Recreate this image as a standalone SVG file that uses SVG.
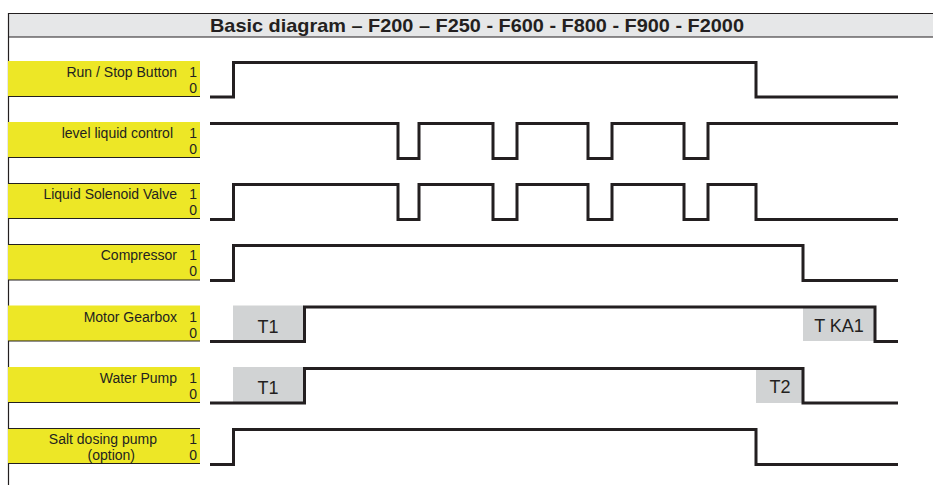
<svg xmlns="http://www.w3.org/2000/svg" width="933" height="485" viewBox="0 0 933 485">
<style>
  .lbl{font-family:"Liberation Sans",Arial,sans-serif;font-size:14px;fill:#231f20;text-anchor:end}
  .ttl{font-family:"Liberation Sans",Arial,sans-serif;font-size:18.5px;font-weight:bold;fill:#231f20}
  .tm{font-family:"Liberation Sans",Arial,sans-serif;font-size:18px;fill:#231f20;text-anchor:middle}
  .box{fill:#ede726}
  .edge{stroke:#231f20;stroke-width:1.2;fill:none}
  .sig{stroke:#231f20;stroke-width:3;fill:none;stroke-linejoin:miter;stroke-linecap:butt}
  .tbox{fill:#d1d3d4}
</style>
<rect width="933" height="485" fill="#ffffff"/>
<g id="title">
  <rect x="8" y="13" width="925" height="24" fill="#e6e7e8"/>
  <line x1="8" y1="13.5" x2="933" y2="13.5" class="edge"/>
  <line x1="8" y1="37" x2="933" y2="37" class="edge"/>
  <line x1="8.5" y1="13" x2="8.5" y2="485" class="edge"/>
  <text x="210" y="32" class="ttl" textLength="534" lengthAdjust="spacingAndGlyphs">Basic diagram – F200 – F250 - F600 - F800 - F900 - F2000</text>
</g>
<g id="run-stop">
  <rect x="8" y="61" width="192" height="35" class="box"/>
  <line x1="8" y1="96.5" x2="200" y2="96.5" class="edge"/>
  <text x="177" y="77" class="lbl">Run / Stop Button</text>
  <text x="197" y="77" class="lbl">1</text>
  <text x="197" y="93" class="lbl">0</text>
</g>
<g id="level-liquid">
  <rect x="8" y="122" width="192" height="35" class="box"/>
  <line x1="8" y1="157.5" x2="200" y2="157.5" class="edge"/>
  <text x="173" y="138" class="lbl">level liquid control</text>
  <text x="197" y="138" class="lbl">1</text>
  <text x="197" y="154" class="lbl">0</text>
</g>
<g id="solenoid">
  <rect x="8" y="183" width="192" height="35" class="box"/>
  <line x1="8" y1="183.5" x2="200" y2="183.5" class="edge"/>
  <line x1="8" y1="218.5" x2="200" y2="218.5" class="edge"/>
  <text x="177" y="199" class="lbl">Liquid Solenoid Valve</text>
  <text x="197" y="199" class="lbl">1</text>
  <text x="197" y="215" class="lbl">0</text>
</g>
<g id="compressor">
  <rect x="8" y="244" width="192" height="36" class="box"/>
  <line x1="8" y1="244.5" x2="200" y2="244.5" class="edge"/>
  <line x1="8" y1="280" x2="200" y2="280" class="edge"/>
  <text x="177" y="260" class="lbl">Compressor</text>
  <text x="197" y="260" class="lbl">1</text>
  <text x="197" y="276" class="lbl">0</text>
</g>
<g id="motor-gearbox">
  <rect x="8" y="305.5" width="192" height="35.5" class="box"/>
  <line x1="8" y1="341" x2="200" y2="341" class="edge"/>
  <text x="177" y="322" class="lbl">Motor Gearbox</text>
  <text x="197" y="322" class="lbl">1</text>
  <text x="197" y="338" class="lbl">0</text>
  <rect x="233" y="305.5" width="71" height="35.5" class="tbox"/>
  <text x="268" y="333" class="tm">T1</text>
  <rect x="803" y="308" width="71" height="33" class="tbox"/>
  <text x="839" y="332" class="tm">T KA1</text>
</g>
<g id="water-pump">
  <rect x="8" y="367" width="192" height="35" class="box"/>
  <line x1="8" y1="402.5" x2="200" y2="402.5" class="edge"/>
  <text x="177" y="383" class="lbl">Water Pump</text>
  <text x="197" y="383" class="lbl">1</text>
  <text x="197" y="399" class="lbl">0</text>
  <rect x="233" y="367" width="71" height="35.5" class="tbox"/>
  <text x="268" y="394" class="tm">T1</text>
  <rect x="756" y="369" width="47" height="34" class="tbox"/>
  <text x="780" y="393" class="tm">T2</text>
</g>
<g id="salt-dosing">
  <rect x="8" y="428" width="192" height="35" class="box"/>
  <line x1="8" y1="428.5" x2="200" y2="428.5" class="edge"/>
  <line x1="8" y1="463.5" x2="200" y2="463.5" class="edge"/>
  <text x="157" y="444" class="lbl">Salt dosing pump</text>
  <text x="135" y="460" class="lbl">(option)</text>
  <text x="197" y="444" class="lbl">1</text>
  <text x="197" y="460" class="lbl">0</text>
</g>
<g id="connectors">
  <path class="sig" d="M210,97 H233.5 V62.5 H756 V97 H898"/>
  <path class="sig" d="M210,123.5 H398 V158.5 H419 V123.5 H493 V158.5 H517 V123.5 H588 V158.5 H612 V123.5 H684 V158.5 H708 V123.5 H898"/>
  <path class="sig" d="M210,219.5 H233.5 V184.5 H398 V219.5 H419 V184.5 H493 V219.5 H517 V184.5 H588 V219.5 H612 V184.5 H684 V219.5 H708 V184.5 H756 V219.5 H898"/>
  <path class="sig" d="M210,280.5 H233.5 V245.5 H803 V280.5 H898"/>
  <path class="sig" d="M210,341.5 H304.5 V307 H875 V341.5 H898"/>
  <path class="sig" d="M210,403 H304.5 V368.5 H803 V403 H898"/>
  <path class="sig" d="M210,464.5 H233.5 V429.5 H756 V464.5 H898"/>
</g>
</svg>
